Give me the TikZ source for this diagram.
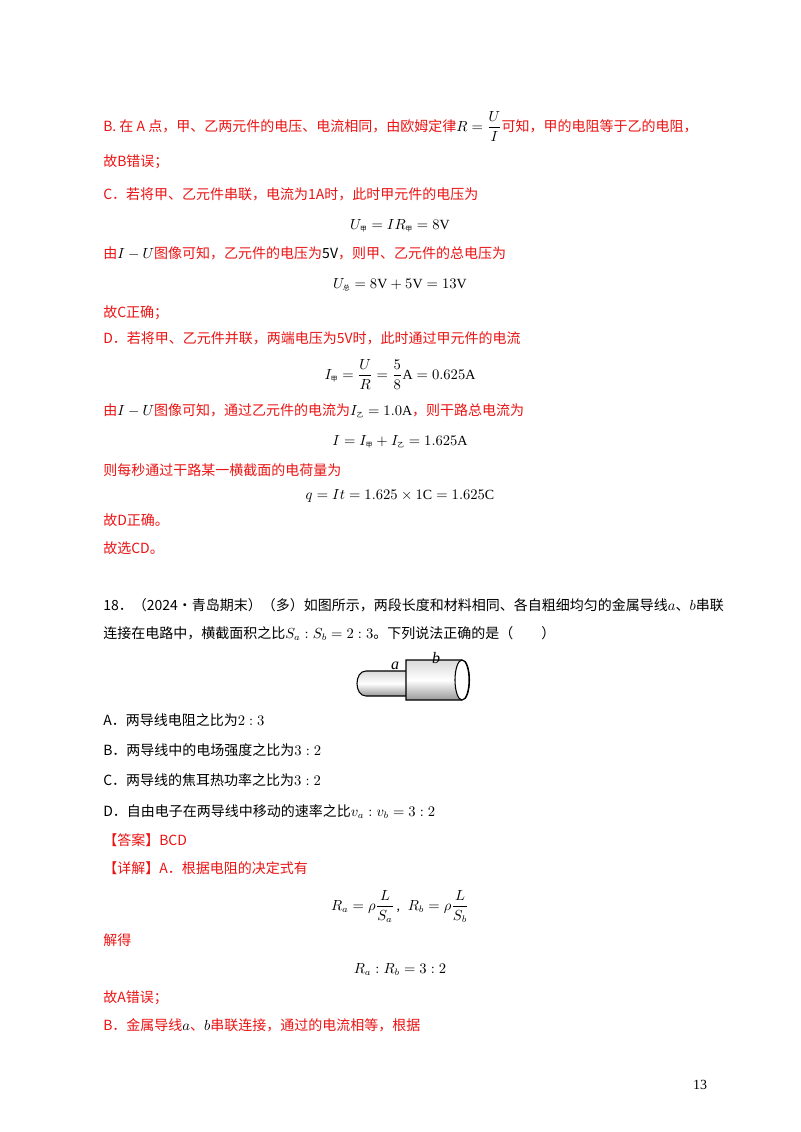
\documentclass[tikz,border=0pt]{standalone}
\usepackage{amsmath}
\usepackage{fontspec}
\setmainfont{Liberation Serif}
\newfontfamily\cjk{Noto Sans CJK SC}
\begin{document}
\begin{tikzpicture}[x=0.75pt,y=-0.75pt,
  red/.style={anchor=base west,text=myred,font=\fontsize{10.5}{12}\selectfont\cjk,inner sep=0},
  blk/.style={anchor=base west,text=black,font=\fontsize{10.5}{12}\selectfont\cjk,inner sep=0},
  eq/.style={anchor=base,text=black,font=\fontsize{10.5}{12}\selectfont,inner sep=0}]
\definecolor{myred}{RGB}{235,20,20}
\useasboundingbox (0,0) rectangle (800,1132);
\fill[white] (0,0) rectangle (800,1132);
\node[red] (l1) at (103,131) {B. 在 \textit{A} 点，甲、乙两元件的电压、电流相同，由欧姆定律{\color{black}$R=\dfrac{U}{I}$}可知，甲的电阻等于乙的电阻，};
\node[red] (l2) at (103,166) {故B错误；};
\node[red] (l3) at (103,199) {C．若将甲、乙元件串联，电流为1A时，此时甲元件的电压为};
\node[eq] (e1) at (400,229) {$U_{\text{\cjk\tiny 甲}}=IR_{\text{\cjk\tiny 甲}}=8\mathrm{V}$};
\node[red] (l4) at (103,258) {由{\color{black}$I-U$}图像可知，乙元件的电压为{\color{black}5V}，则甲、乙元件的总电压为};
\node[eq] (e2) at (400,288) {$U_{\text{\cjk\tiny 总}}=8\mathrm{V}+5\mathrm{V}=13\mathrm{V}$};
\node[red] (l5) at (103,317) {故C正确；};
\node[red] (l6) at (103,343) {D．若将甲、乙元件并联，两端电压为5V时，此时通过甲元件的电流};
\node[eq] (e3) at (400,379) {$I_{\text{\cjk\tiny 甲}}=\dfrac{U}{R}=\dfrac{5}{8}\mathrm{A}=0.625\mathrm{A}$};
\node[red] (l7) at (103,415) {由{\color{black}$I-U$}图像可知，通过乙元件的电流为{\color{black}$I_{\text{\cjk\tiny 乙}}=1.0\mathrm{A}$}，则干路总电流为};
\node[eq] (e4) at (400,445) {$I=I_{\text{\cjk\tiny 甲}}+I_{\text{\cjk\tiny 乙}}=1.625\mathrm{A}$};
\node[red] (l8) at (103,475) {则每秒通过干路某一横截面的电荷量为};
\node[eq] (e5) at (400,499) {$q=It=1.625\times1\mathrm{C}=1.625\mathrm{C}$};
\node[red] (l9) at (103,525) {故D正确。};
\node[red] (l10) at (103,553) {故选CD。};
\node[blk] (q1) at (103,610) {18．（2024·青岛期末）（多）如图所示，两段长度和材料相同、各自粗细均匀的金属导线$a$、$b$串联};
\node[blk] (q2) at (103,638) {连接在电路中，横截面积之比$S_a:S_b=2:3$。下列说法正确的是（\quad\quad ）};
% figure
\shade[top color=gray!30,bottom color=gray!80,middle color=white,draw=black,thick]
  (410,671) -- (366,671) .. controls (354,671) and (354,696) .. (366,696) -- (410,696) -- cycle;
\shade[top color=gray!30,bottom color=gray!80,middle color=white,draw=black,thick]
  (462,660) -- (406,660) -- (406,700) -- (462,700) .. controls (472,700) and (472,660) .. (462,660) -- cycle;
\draw[thick,fill=white] (462,680) ellipse[x radius=7,y radius=20];
\node[anchor=base,font=\fontsize{12}{12}\selectfont\itshape] (la) at (395,669) {a};
\node[anchor=base,font=\fontsize{12}{12}\selectfont\itshape] (lb) at (436,663) {b};
\node[blk] (oA) at (103,725) {A．两导线电阻之比为$2:3$};
\node[blk] (oB) at (103,755) {B．两导线中的电场强度之比为$3:2$};
\node[blk] (oC) at (103,785) {C．两导线的焦耳热功率之比为$3:2$};
\node[blk] (oD) at (103,816) {D．自由电子在两导线中移动的速率之比$v_a:v_b=3:2$};
\node[red] (ans) at (103,845) {【答案】BCD};
\node[red] (ex) at (103,873) {【详解】A．根据电阻的决定式有};
\node[eq] (e6) at (400,910) {$R_a=\rho\dfrac{L}{S_a}$\,,\;\;$R_b=\rho\dfrac{L}{S_b}$};
\node[red] (jd) at (103,945) {解得};
\node[eq] (e7) at (400,973) {$R_a:R_b=3:2$};
\node[red] (l11) at (103,1002) {故A错误；};
\node[red] (l12) at (103,1030) {B．金属导线{\color{black}$a$}、{\color{black}$b$}串联连接，通过的电流相等，根据};
\node[anchor=base,font=\fontsize{10.5}{12}\selectfont,inner sep=0] (pg) at (700,1089) {13};
\end{tikzpicture}
\end{document}
